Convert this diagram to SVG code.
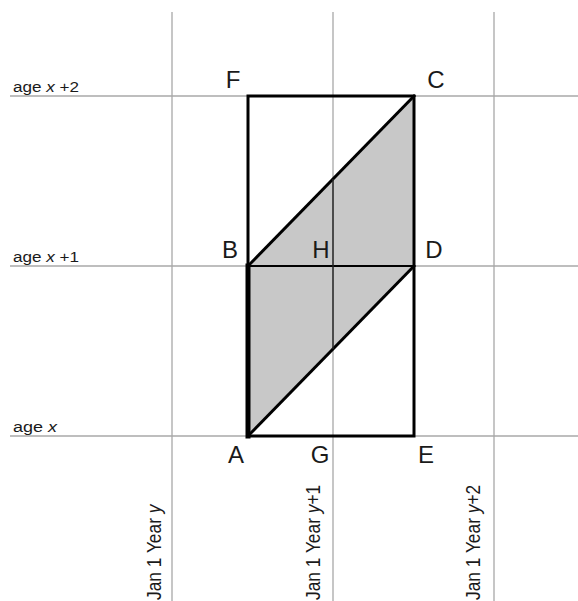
<svg xmlns="http://www.w3.org/2000/svg" width="578" height="601" viewBox="0 0 578 601">
<style>
.grid{stroke:#a8a8a8;stroke-width:1.3;fill:none}
.bold{stroke:#000;fill:none;stroke-linecap:square}
.lbl{font-family:"Liberation Sans",Arial,sans-serif;font-size:24px;fill:#1a1a1a;text-anchor:middle}
.age{font-family:"Liberation Sans",Arial,sans-serif;font-size:14px;fill:#1a1a1a}
.date{font-family:"Liberation Sans",Arial,sans-serif;font-size:17px;fill:#1a1a1a}
</style>
<rect width="578" height="601" fill="#fff"/>
<g id="grid">
<line class="grid" x1="10" y1="96" x2="578" y2="96"/>
<line class="grid" x1="10" y1="266" x2="578" y2="266"/>
<line class="grid" x1="10" y1="436" x2="578" y2="436"/>
<line class="grid" x1="172" y1="12" x2="172" y2="601"/>
<line class="grid" x1="333" y1="12" x2="333" y2="601"/>
<line class="grid" x1="494" y1="12" x2="494" y2="601"/>
</g>
<g id="shade">
<polygon points="248,436 414,266 414,96 248,266" fill="#c8c8c8"/>
</g>
<g id="connectors">
<rect class="bold" x="248" y="96" width="166" height="340" stroke-width="3"/>
<line class="bold" x1="248" y1="266" x2="248" y2="436" stroke-width="5"/>
<line class="bold" x1="248" y1="266" x2="414" y2="96" stroke-width="3"/>
<line class="bold" x1="248" y1="436" x2="414" y2="266" stroke-width="3"/>
<line class="bold" x1="248" y1="266" x2="414" y2="266" stroke-width="2"/>
<line x1="333" y1="179" x2="333" y2="349" stroke="#222" stroke-width="1.5"/>
</g>
<g id="node-F"><text class="lbl" x="233" y="88">F</text></g>
<g id="node-C"><text class="lbl" x="436" y="88">C</text></g>
<g id="node-B"><text class="lbl" x="230" y="258">B</text></g>
<g id="node-H"><text class="lbl" x="321" y="258">H</text></g>
<g id="node-D"><text class="lbl" x="434" y="258">D</text></g>
<g id="node-A"><text class="lbl" x="236" y="463">A</text></g>
<g id="node-G"><text class="lbl" x="320" y="463">G</text></g>
<g id="node-E"><text class="lbl" x="426" y="463">E</text></g>
<g id="age-labels">
<text class="age" x="13" y="92" textLength="66" lengthAdjust="spacingAndGlyphs">age <tspan font-style="italic">x</tspan> +2</text>
<text class="age" x="13" y="262" textLength="66" lengthAdjust="spacingAndGlyphs">age <tspan font-style="italic">x</tspan> +1</text>
<text class="age" x="13" y="432" textLength="44" lengthAdjust="spacingAndGlyphs">age <tspan font-style="italic">x</tspan></text>
</g>
<g id="date-labels">
<text class="date" transform="translate(161,600) rotate(-90) scale(1.02,1.15)">Jan 1 Year <tspan font-style="italic">y</tspan></text>
<text class="date" transform="translate(320,600) rotate(-90) scale(1.02,1.15)">Jan 1 Year <tspan font-style="italic">y</tspan>+1</text>
<text class="date" transform="translate(480,600) rotate(-90) scale(1.02,1.15)">Jan 1 Year <tspan font-style="italic">y</tspan>+2</text>
</g>
</svg>
